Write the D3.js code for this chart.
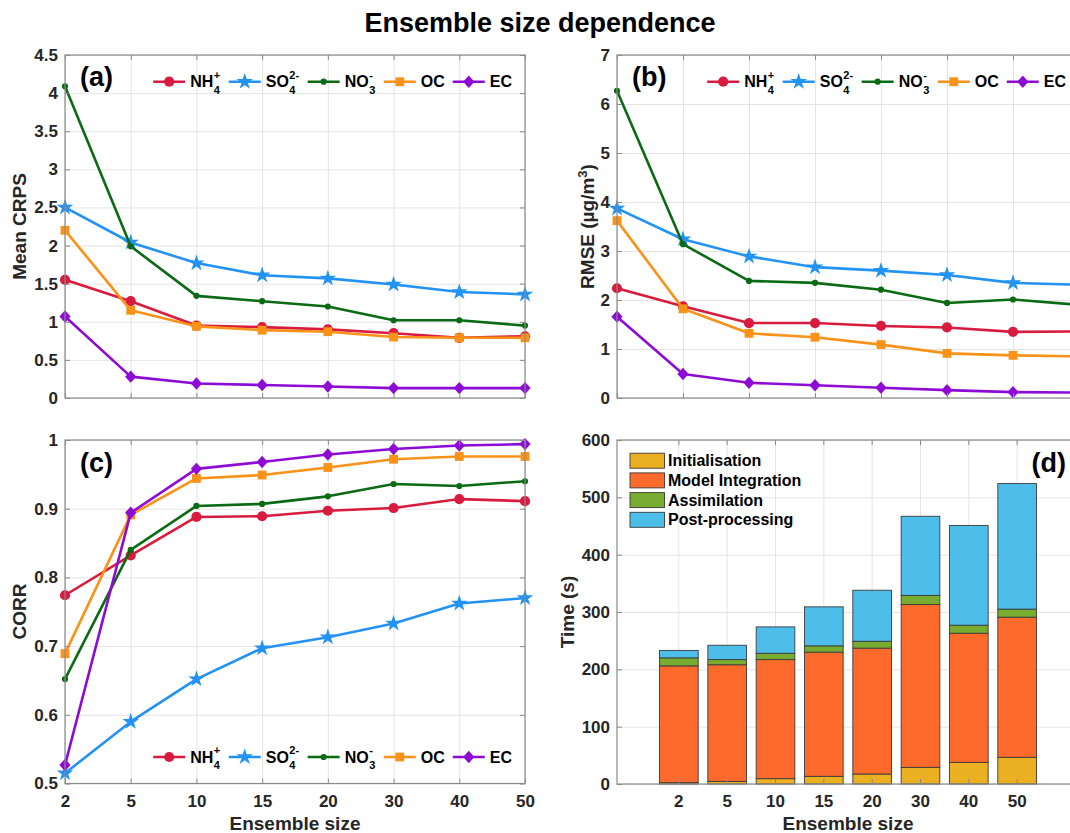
<!DOCTYPE html>
<html>
<head>
<meta charset="utf-8">
<script src="https://cdn.jsdelivr.net/npm/d3@7"></script>
<style>
body { margin:0; background:#fff; }
svg { display:block; font-family:"Liberation Sans", Arial, sans-serif; font-weight:bold; }
.grid line { stroke:#e4e4e4; stroke-width:1; }
.grid path { display:none; }
.tk path { display:none; }
.tk line { stroke:#8a8a8a; }
.tk text { fill:#262626; font-size:17px; font-weight:bold; font-family:"Liberation Sans", Arial, sans-serif; }
</style>
</head>
<body>
<div id="container"></div>
<script>
// ensemble sizes (x categories)
var sizes = ["2", "5", "10", "15", "20", "30", "40", "50"];

// (a) mean CRPS
var crpsNH4 = [1.55, 1.27, 0.95, 0.93, 0.90, 0.85, 0.79, 0.81];
var crpsSO4 = [2.50, 2.04, 1.77, 1.61, 1.57, 1.49, 1.39, 1.36];
var crpsNO3 = [4.09, 1.99, 1.34, 1.27, 1.20, 1.02, 1.02, 0.95];
var crpsOC  = [2.20, 1.15, 0.94, 0.89, 0.87, 0.80, 0.79, 0.79];
var crpsEC  = [1.07, 0.28, 0.19, 0.17, 0.15, 0.13, 0.13, 0.13];

// (b) RMSE
var rmseNH4 = [2.24, 1.87, 1.53, 1.53, 1.47, 1.44, 1.35, 1.36];
var rmseSO4 = [3.87, 3.24, 2.89, 2.67, 2.60, 2.51, 2.35, 2.31];
var rmseNO3 = [6.27, 3.14, 2.39, 2.35, 2.21, 1.94, 2.01, 1.90];
var rmseOC  = [3.62, 1.82, 1.32, 1.24, 1.09, 0.91, 0.87, 0.85];
var rmseEC  = [1.66, 0.49, 0.31, 0.26, 0.21, 0.16, 0.12, 0.11];

// (c) correlation
var corrNH4 = [0.774, 0.832, 0.888, 0.889, 0.897, 0.901, 0.914, 0.911];
var corrSO4 = [0.515, 0.590, 0.652, 0.697, 0.713, 0.733, 0.762, 0.770];
var corrNO3 = [0.652, 0.840, 0.904, 0.907, 0.918, 0.936, 0.933, 0.940];
var corrOC  = [0.689, 0.891, 0.944, 0.949, 0.960, 0.972, 0.976, 0.976];
var corrEC  = [0.527, 0.894, 0.958, 0.968, 0.979, 0.987, 0.992, 0.994];

// (d) run time per stage (s)
var timeInit  = [2.3, 4.6, 9.3, 13.4, 17.4, 29, 37.8, 46.5];
var timeModel = [203.7, 203.4, 207.7, 216.6, 219.6, 284, 225.2, 244.5];
var timeAssim = [14, 9, 11, 11, 12, 16, 14, 14];
var timePost  = [13, 25, 46, 68, 89, 138, 174, 219];
var stageNames = ["Initialisation", "Model Integration", "Assimilation", "Post-processing"];

// tick labels
var crpsTicks = [0, 0.5, 1, 1.5, 2, 2.5, 3, 3.5, 4, 4.5];
var rmseTicks = [0, 1, 2, 3, 4, 5, 6, 7];
var corrTicks = [0.5, 0.6, 0.7, 0.8, 0.9, 1];
var timeTicks = [0, 100, 200, 300, 400, 500, 600];

// species labels (base + superscript + subscript)
var specBase = ["NH", "SO", "NO", "OC", "EC"];
var specSup  = ["+", "2-", "-", "", ""];
var specSub  = ["4", "4", "3", "", ""];

// styles
var specColor = ["#d81b3e", "#2292f5", "#0b6a14", "#fa9218", "#8e0bd6"];
var stageColor = ["#ebb022", "#fd6a2b", "#77ac30", "#4dbeea"];

var diamond = {draw: function(ctx, size) { ctx.moveTo(0, -6.2); ctx.lineTo(5.6, 0); ctx.lineTo(0, 6.2); ctx.lineTo(-5.6, 0); ctx.closePath(); }};
var specSymbol = [
	d3.symbol(d3.symbolCircle, 82),
	d3.symbol(d3.symbolStar, 85),
	d3.symbol(d3.symbolCircle, 30),
	d3.symbol(d3.symbolSquare, 78),
	d3.symbol(diamond, 1)
];

var W = 1070, H = 833;
var svg = d3.select("#container").append("svg").attr("width", W).attr("height", H);

svg.append("text")
	.attr("x", 540).attr("y", 32)
	.attr("text-anchor", "middle")
	.style("font-size", "27px").style("fill", "#000")
	.text("Ensemble size dependence");

function drawGrid(g, x, y, w, h, yTicks) {
	g.append("g").attr("class", "grid")
		.call(d3.axisLeft(y).tickValues(yTicks).tickSize(-w).tickFormat(""));
	g.append("g").attr("class", "grid")
		.attr("transform", "translate(0," + h + ")")
		.call(d3.axisBottom(x).tickSize(-h).tickFormat(""));
}

function drawAxes(g, x, y, w, h, yTicks, showX) {
	g.append("rect").attr("width", w).attr("height", h)
		.attr("fill", "none").attr("stroke", "#8a8a8a").attr("stroke-width", 1.2);
	g.append("g").attr("class", "tk")
		.call(d3.axisLeft(y).tickValues(yTicks).tickSize(-5).tickPadding(7).tickFormat(d3.format("~g")));
	g.append("g").attr("class", "tk")
		.attr("transform", "translate(" + w + ",0)")
		.call(d3.axisRight(y).tickValues(yTicks).tickSize(-5).tickFormat(""));
	g.append("g").attr("class", "tk")
		.attr("transform", "translate(0," + h + ")")
		.call(d3.axisBottom(x).tickSize(-5).tickPadding(11).tickFormat(showX ? null : ""));
	g.append("g").attr("class", "tk")
		.call(d3.axisTop(x).tickSize(-5).tickFormat(""));
}

function specLabel(sel, i, x, y) {
	var t = sel.append("text").attr("x", x).attr("y", y)
		.attr("dy", "0.35em").style("font-size", "16px").style("fill", "#000")
		.text(specBase[i]);
	var bw = t.node().getComputedTextLength();
	var extra = 0;
	if (specSup[i]) {
		var s1 = sel.append("text").attr("x", x + bw + 0.5).attr("y", y - 7).attr("dy", "0.35em")
			.style("font-size", "11px").style("fill", "#000").text(specSup[i]);
		var s2 = sel.append("text").attr("x", x + bw + 0.5).attr("y", y + 8).attr("dy", "0.35em")
			.style("font-size", "11px").style("fill", "#000").text(specSub[i]);
		extra = Math.max(s1.node().getComputedTextLength(), s2.node().getComputedTextLength()) + 1;
	}
	return bw + extra;
}

function drawLegend(g, w, ly) {
	var lg = g.append("g");
	var cx = 0;
	for (var i = 0; i < 5; i++) {
		var it = lg.append("g");
		it.append("line").attr("x1", cx).attr("x2", cx + 32).attr("y1", ly).attr("y2", ly)
			.attr("stroke", specColor[i]).attr("stroke-width", 2.6);
		it.append("path").attr("d", specSymbol[i]())
			.attr("transform", "translate(" + (cx + 16) + "," + ly + ")")
			.attr("fill", specColor[i]);
		var lw = specLabel(it, i, cx + 37, ly);
		cx += 37 + lw + 8;
	}
	cx -= 8;
	lg.attr("transform", "translate(" + (w - 13 - cx) + ",0)");
}

function linePanel(box, series, yDomain, yTicks, showX, legendY, tag) {
	var g = svg.append("g").attr("transform", "translate(" + box.x + "," + box.y + ")");
	var x = d3.scalePoint().domain(sizes).range([0, box.w]);
	var y = d3.scaleLinear().domain(yDomain).range([box.h, 0]);
	drawGrid(g, x, y, box.w, box.h, yTicks);
	var line = d3.line().x(function(d, i) { return x(sizes[i]); }).y(function(d) { return y(d); });
	series.forEach(function(vals, k) {
		g.append("path").datum(vals).attr("d", line)
			.attr("fill", "none").attr("stroke", specColor[k]).attr("stroke-width", 2.6)
			.attr("stroke-linejoin", "round");
		g.selectAll(".m" + k).data(vals).enter().append("path")
			.attr("d", specSymbol[k]())
			.attr("transform", function(d, i) { return "translate(" + x(sizes[i]) + "," + y(d) + ")"; })
			.attr("fill", specColor[k]);
	});
	drawAxes(g, x, y, box.w, box.h, yTicks, showX);
	drawLegend(g, box.w, legendY);
	g.append("text").attr("x", 15).attr("y", tag[1])
		.style("font-size", "27px").style("fill", "#000").text(tag[0]);
	return g;
}

var boxA = {x: 65, y: 55, w: 460, h: 343};
var boxB = {x: 617, y: 55, w: 462, h: 343};
var boxC = {x: 65, y: 440, w: 460, h: 343.5};
var boxD = {x: 617, y: 440, w: 462, h: 344};

linePanel(boxA, [crpsNH4, crpsSO4, crpsNO3, crpsOC, crpsEC], [0, 4.5], crpsTicks, false, 26.7, ["(a)", 31]);
linePanel(boxB, [rmseNH4, rmseSO4, rmseNO3, rmseOC, rmseEC], [0, 7], rmseTicks, false, 26.7, ["(b)", 31]);
linePanel(boxC, [corrNH4, corrSO4, corrNO3, corrOC, corrEC], [0.5, 1], corrTicks, true, 317, ["(c)", 32]);

// (d) stacked bars
(function() {
	var box = boxD;
	var g = svg.append("g").attr("transform", "translate(" + box.x + "," + box.y + ")");
	var x = d3.scaleBand().domain(sizes).range([0, box.w]).paddingInner(0.2).paddingOuter(0.88);
	var y = d3.scaleLinear().domain([0, 600]).range([box.h, 0]);
	drawGrid(g, x, y, box.w, box.h, timeTicks);

	var rows = sizes.map(function(s, i) {
		return {size: s, a: timeInit[i], b: timeModel[i], c: timeAssim[i], d: timePost[i]};
	});
	var stacked = d3.stack().keys(["a", "b", "c", "d"])(rows);
	stacked.forEach(function(layer, k) {
		g.selectAll(".bar" + k).data(layer).enter().append("rect")
			.attr("x", function(d) { return x(d.data.size); })
			.attr("width", x.bandwidth())
			.attr("y", function(d) { return y(d[1]); })
			.attr("height", function(d) { return y(d[0]) - y(d[1]); })
			.attr("fill", stageColor[k])
			.attr("stroke", "#3b3b3b").attr("stroke-width", 0.9);
	});
	drawAxes(g, x, y, box.w, box.h, timeTicks, true);

	// legend
	var lg = g.append("g");
	stageNames.forEach(function(n, k) {
		var ly = 20.7 + k * 19.7;
		lg.append("rect").attr("x", 13).attr("y", ly - 7.5).attr("width", 34.5).attr("height", 15)
			.attr("fill", stageColor[k]).attr("stroke", "#3b3b3b").attr("stroke-width", 0.9);
		lg.append("text").attr("x", 51).attr("y", ly).attr("dy", "0.35em")
			.style("font-size", "16px").style("fill", "#000").text(n);
	});
	g.append("text").attr("x", 449).attr("y", 32).attr("text-anchor", "end")
		.style("font-size", "27px").style("fill", "#000").text("(d)");
})();

// axis titles
function yTitle(x, y, txt) {
	return svg.append("text").attr("transform", "translate(" + x + "," + y + ") rotate(-90)")
		.attr("text-anchor", "middle").attr("dy", "0.35em")
		.style("font-size", "19px").style("fill", "#262626").text(txt);
}
yTitle(19, 226.5, "Mean CRPS");
var rt = yTitle(587, 226.5, null);
rt.append("tspan").text("RMSE (\u00b5g/m");
rt.append("tspan").attr("dy", -7).style("font-size", "13px").text("3");
rt.append("tspan").attr("dy", 7).text(")");
yTitle(19, 611.5, "CORR");
yTitle(567, 612, "Time (s)");

svg.append("text").attr("x", 295).attr("y", 830).attr("text-anchor", "middle")
	.style("font-size", "19px").style("fill", "#262626").text("Ensemble size");
svg.append("text").attr("x", 848).attr("y", 830).attr("text-anchor", "middle")
	.style("font-size", "19px").style("fill", "#262626").text("Ensemble size");
</script>
</body>
</html>
